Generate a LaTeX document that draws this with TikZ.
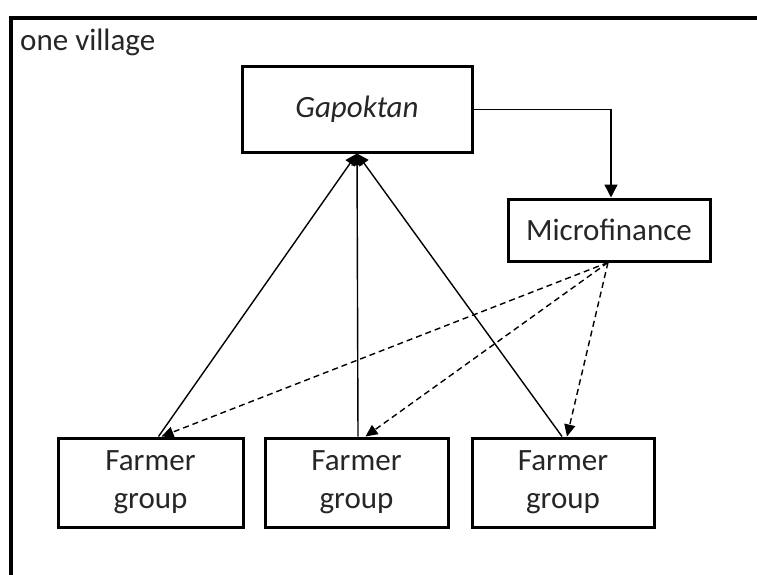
\documentclass[tikz,border=0pt]{standalone}
\usepackage{fontspec}
\setmainfont{Carlito}
\usetikzlibrary{arrows.meta}
\definecolor{txt}{HTML}{262626}
\begin{document}
\begin{tikzpicture}[x=1pt,y=-1pt,
  box/.style={draw, line width=3pt, inner sep=0pt, align=center,
    font=\fontsize{31}{38}\selectfont, text=txt},
  link/.style={line width=1.4pt, -{Triangle[length=12pt,width=11pt]}},
  dlink/.style={link, dash pattern=on 6pt off 4pt},
]
% page area; the village frame runs past the right and bottom edges
\clip (0,0) rectangle (757,575);
\fill[white] (0,0) rectangle (757,575);
\draw[line width=3.5pt] (11,600) -- (11,18) -- (790,18);
\node[anchor=base west, inner sep=0pt, font=\fontsize{31}{38}\selectfont, text=txt]
  (village) at (20,51) {one village};

% organisations
\node[box, minimum width=230pt, minimum height=85pt] (gap) at (357,109.5) {\itshape Gapoktan};
\node[box, minimum width=202pt, minimum height=62pt] (micro) at (609,230) {Microfinance};

% farmer groups
\node[box, minimum width=185pt, minimum height=89pt] (fg1) at (150.5,482.5) {Farmer\\group};
\node[box, minimum width=183pt, minimum height=89pt] (fg2) at (356.5,482.5) {Farmer\\group};
\node[box, minimum width=182pt, minimum height=89pt] (fg3) at (563,482.5) {Farmer\\group};

% Gapoktan to Microfinance
\draw[link, -{Triangle[length=13pt,width=13pt]}] (gap.east) -| ([xshift=2pt]micro.north);

% farmer groups report to Gapoktan
\draw[link] ([xshift=8pt]fg1.north) -- (gap.south);
\draw[link] ([xshift=1.5pt]fg2.north) -- (gap.south);
\draw[link] ([xshift=-1pt]fg3.north) -- (gap.south);

% Microfinance serves the farmer groups
\draw[dlink] ([xshift=-1pt]micro.south) -- ([xshift=11pt]fg1.north);
\draw[dlink] ([xshift=-1pt]micro.south) -- ([xshift=9pt]fg2.north);
\draw[dlink] ([xshift=-1pt]micro.south) -- ([xshift=4pt]fg3.north);
\end{tikzpicture}
\end{document}
